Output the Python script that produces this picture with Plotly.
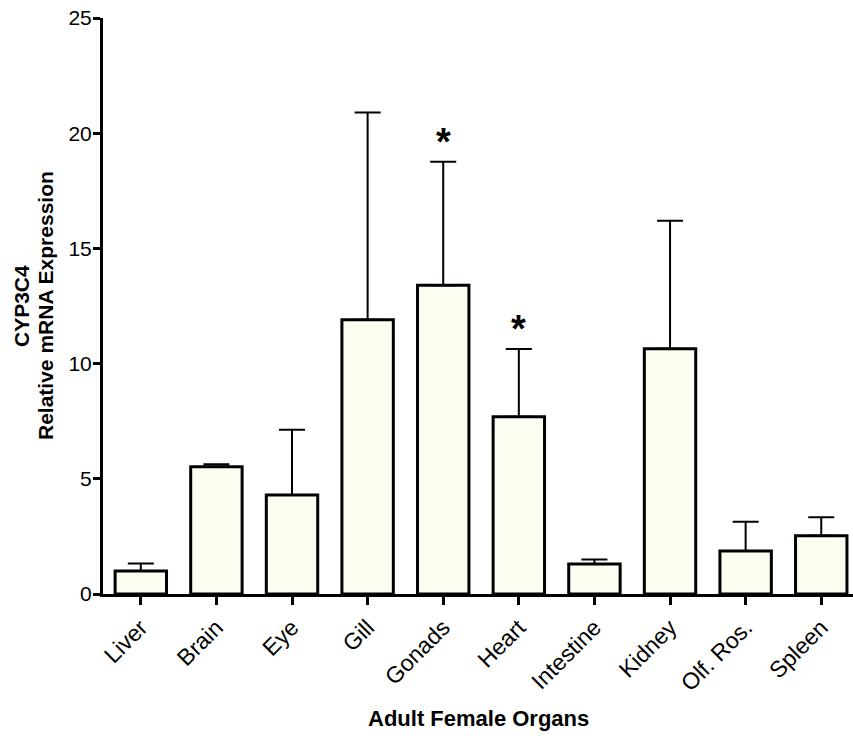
import plotly.graph_objects as go

# CYP3C4 relative mRNA expression across adult female organs (mean + SEM)
organs = ["Liver", "Brain", "Eye", "Gill", "Gonads", "Heart",
          "Intestine", "Kidney", "Olf. Ros.", "Spleen"]
mean_expr = [1.0, 5.52, 4.3, 11.9, 13.4, 7.69, 1.3, 10.64, 1.87, 2.53]
sem_expr = [0.32, 0.11, 2.83, 9.0, 5.36, 2.94, 0.2, 5.56, 1.27, 0.80]
significant = [False, False, False, False, True, True, False, False, False, False]

y_ticks = [0, 5, 10, 15, 20, 25]

FONT = "Liberation Sans, Arial, sans-serif"
BAR_FILL = "#fcfdf0"

fig = go.Figure()

fig.add_trace(go.Bar(
    x=organs,
    y=mean_expr,
    width=0.68,
    marker=dict(color=BAR_FILL, line=dict(color="black", width=3)),
    error_y=dict(
        type="data",
        symmetric=False,
        array=sem_expr,
        arrayminus=[0] * len(sem_expr),
        color="black",
        thickness=2,
        width=13,
    ),
    showlegend=False,
))

# significance asterisks above the error caps
for name, m, s, sig in zip(organs, mean_expr, sem_expr, significant):
    if sig:
        fig.add_annotation(
            x=name, y=m + s, xref="x", yref="y",
            text="<b>*</b>", showarrow=False,
            yanchor="bottom", yshift=-3,
            font=dict(family=FONT, size=38, color="black"),
        )

# y-axis title, two rotated lines
for label, shift in (("<b>CYP3C4</b>", -82), ("<b>Relative mRNA Expression</b>", -58)):
    fig.add_annotation(
        xref="paper", yref="paper", x=0, y=0.5,
        xanchor="center", yanchor="middle", xshift=shift,
        text=label, textangle=-90, showarrow=False,
        font=dict(family=FONT, size=21, color="black"),
    )

# x-axis title
fig.add_annotation(
    xref="paper", yref="paper", x=0.5, y=0,
    xanchor="center", yanchor="middle", yshift=-124,
    text="<b>Adult Female Organs</b>",
    showarrow=False,
    font=dict(family=FONT, size=22, color="black"),
)

fig.update_layout(
    width=853, height=736,
    margin=dict(l=103, r=0, t=18, b=142),
    paper_bgcolor="white",
    plot_bgcolor="white",
    font=dict(family=FONT, size=21, color="black"),
)

fig.update_xaxes(
    range=[-0.5, 9.42],
    showline=True, linecolor="black", linewidth=3,
    ticks="outside", ticklen=8, tickwidth=3, tickcolor="black",
    tickangle=-45,
    tickfont=dict(family=FONT, size=23, color="black"),
    showgrid=False, zeroline=False,
)

fig.update_yaxes(
    range=[0, 25],
    tickvals=y_ticks,
    ticktext=[str(v) for v in y_ticks],
    showline=True, linecolor="black", linewidth=3,
    ticks="outside", ticklen=7, tickwidth=3, tickcolor="black",
    ticklabelstandoff=-3,
    tickfont=dict(family=FONT, size=21, color="black"),
    showgrid=False, zeroline=False,
)

fig.write_html("out.html")
